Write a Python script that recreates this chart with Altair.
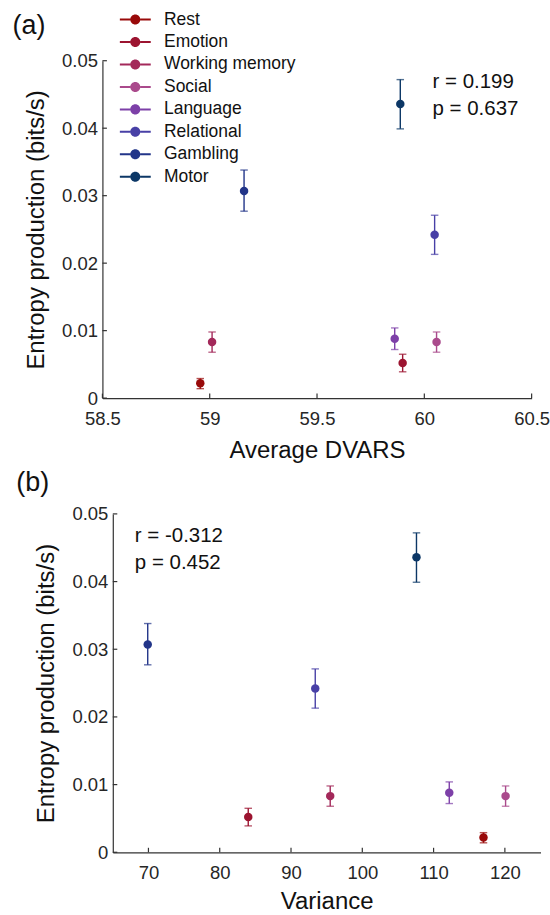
import altair as alt
import pandas as pd

# ---------------- data ----------------
tasks = ["Rest", "Emotion", "Working memory", "Social", "Language",
         "Relational", "Gambling", "Motor"]
task_colors = ["#990a0a", "#9c1430", "#a3295a", "#aa4a8c", "#7d40a8",
               "#4840a6", "#223589", "#0c3766"]
entropy = [0.0022, 0.0052, 0.0083, 0.0083, 0.0088, 0.0242, 0.0307, 0.0436]
err_low = [0.0014, 0.0039, 0.0068, 0.0068, 0.0072, 0.0213, 0.0277, 0.0399]
err_high = [0.0029, 0.0065, 0.0098, 0.0098, 0.0104, 0.0271, 0.0338, 0.0472]
avg_dvars = [58.956, 59.899, 59.011, 60.057, 59.862, 60.048, 59.160, 59.888]
variance = [117.0, 84.0, 95.5, 120.1, 112.2, 93.4, 69.9, 107.6]

y_ticks = [0, 0.01, 0.02, 0.03, 0.04, 0.05]
x_ticks_a = [58.5, 59, 59.5, 60, 60.5]
x_ticks_b = [70, 80, 90, 100, 110, 120]
stats_a = ["r = 0.199", "p = 0.637"]
stats_b = ["r = -0.312", "p = 0.452"]
panel_labels = ["(a)", "(b)"]

df = pd.DataFrame({
    "task": tasks, "entropy": entropy, "lo": err_low, "hi": err_high,
    "dvars": avg_dvars, "variance": variance,
})

FONT = "Liberation Sans"
AX = "#333333"
LEGEND_PATH = ("M-3.7,-0.24L-1.2,-0.24L-1.2,0.24L-3.7,0.24Z "
               "M1.2,-0.24L3.7,-0.24L3.7,0.24L1.2,0.24Z "
               "M-1.2,0A1.2,1.2 0 1,0 1.2,0A1.2,1.2 0 1,0 -1.2,0Z")

color_scale = alt.Scale(domain=tasks, range=task_colors)


def panel(xfield, xdomain, xticks, xtitle, xfmt, x0, W, H, stats, stat_xy,
          label, label_xy, legend, left_edge, xtitle_pad):
    # x0: left end of the axes inside the (aligned) view
    xscale = alt.Scale(domain=xdomain, nice=False, zero=False, range=[x0, x0 + W])
    yscale = alt.Scale(domain=[0, 0.05], nice=False)
    xaxis = alt.Axis(values=xticks, title=xtitle, ticks=False, grid=False,
                     format=xfmt, labelPadding=11, titlePadding=xtitle_pad,
                     labelFlush=False)
    yaxis = alt.Axis(values=y_ticks, title="Entropy production (bits/s)",
                     ticks=False, grid=False, labelPadding=5, titlePadding=13,
                     offset=-x0,
                     labelExpr="datum.value == 0 ? '0' : format(datum.value, '.2f')")
    base = alt.Chart(df)
    X = alt.X(f"{xfield}:Q", scale=xscale, axis=xaxis)

    if legend:
        leg = alt.Legend(orient="none", legendX=13.8, legendY=-50, title=None,
                         symbolType=LEGEND_PATH, symbolSize=70,
                         symbolStrokeWidth=0, symbolOpacity=1,
                         labelFont=FONT, labelFontSize=17.5, labelColor="#111111",
                         labelOffset=20, rowPadding=3.5, padding=0)
    else:
        leg = None
    C = alt.Color("task:N", scale=color_scale, legend=leg)

    bars = base.mark_rule(strokeWidth=1.4).encode(
        x=X,
        y=alt.Y("lo:Q", scale=yscale, axis=yaxis),
        y2="hi:Q",
        color=C,
    )
    caps = base.transform_fold(["lo", "hi"], as_=["k", "v"]).mark_tick(
        orient="horizontal", size=7.5, thickness=1.4
    ).encode(
        x=X,
        y=alt.Y("v:Q", scale=yscale, axis=yaxis),
        color=C,
    )
    pts = base.mark_circle(size=72, opacity=1).encode(
        x=X,
        y=alt.Y("entropy:Q", scale=yscale, axis=yaxis),
        color=C,
    )
    xt = alt.Chart(pd.DataFrame({"t": xticks})).mark_rule(
        color=AX, strokeWidth=1.2
    ).encode(x=alt.X("t:Q", scale=xscale, axis=xaxis),
             y=alt.value(H), y2=alt.value(H - 4.5))
    yt = alt.Chart(pd.DataFrame({"t": y_ticks})).mark_rule(
        color=AX, strokeWidth=1.2
    ).encode(y=alt.Y("t:Q", scale=yscale, axis=yaxis),
             x=alt.value(x0), x2=alt.value(x0 + 4.5))
    st = alt.Chart(pd.DataFrame({"a": [0]})).mark_text(
        align="left", baseline="alphabetic", font=FONT, fontSize=20.5,
        lineHeight=27, color="#111111"
    ).encode(text=alt.value(stats), x=alt.value(stat_xy[0]), y=alt.value(stat_xy[1]))
    lab = alt.Chart(pd.DataFrame({"lab": [label]})).mark_text(
        align="left", baseline="middle", font=FONT, fontSize=27, color="#111111"
    ).encode(text="lab:N", x=alt.value(label_xy[0]), y=alt.value(label_xy[1]))
    # invisible spacer fixing the panel's left extent
    sp = alt.Chart(pd.DataFrame({"s": ["."]})).mark_text(
        align="left", baseline="middle", font=FONT, fontSize=10, opacity=0
    ).encode(text="s:N", x=alt.value(left_edge), y=alt.value(H / 2))

    return alt.layer(xt, yt, bars, caps, pts, st, lab, sp).properties(
        width=max(x0 + W, W), height=H)


pa = panel("dvars", [58.5, 60.5], x_ticks_a, "Average DVARS", "~g", -10.4, 430, 338,
           stats_a, (320.3, 27), panel_labels[0], (-100.4, -34.7), True, -100.4, 11)
pb = panel("variance", [65, 125], x_ticks_b, "Variance", "d", 0, 428.5, 339,
           stats_b, (22.1, 28), panel_labels[1], (-96.6, -31.3), False, -100.4, 8)

chart = alt.concat(pa, pb, columns=1, spacing=5).properties(
    padding={"left": 12, "top": 10, "right": 0, "bottom": 0}
).configure_view(stroke=None).configure_axis(
    domainColor=AX, domainWidth=1.2, labelFont=FONT, labelFontSize=18.5,
    labelColor="#262626", titleFont=FONT, titleFontSize=24,
    titleFontWeight="normal", titleColor="#111111"
)

chart.save("out.html", embed_options={"renderer": "svg", "actions": False})
